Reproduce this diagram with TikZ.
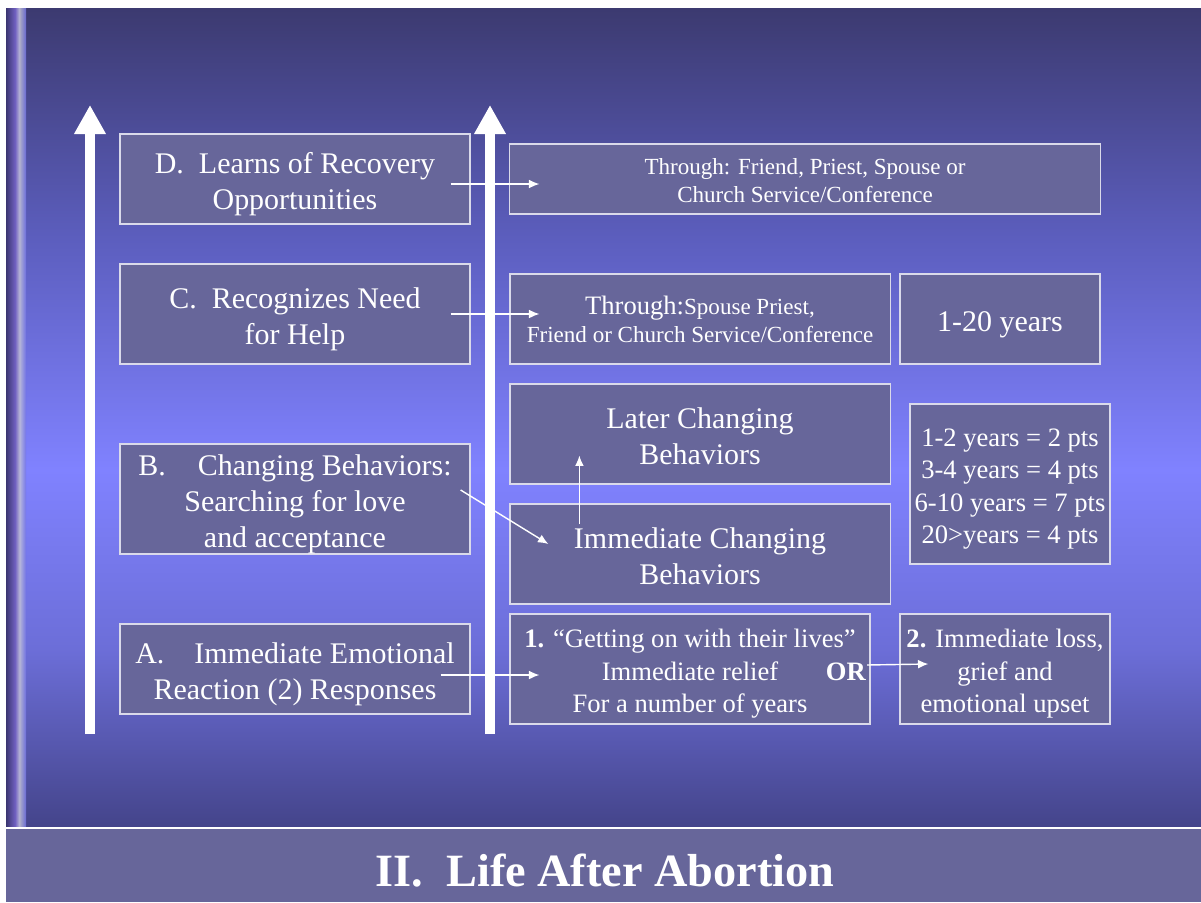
\documentclass[tikz,border=0pt]{standalone}
\usepackage{fontspec}
\setmainfont{Liberation Serif}
\usetikzlibrary{calc,arrows.meta}

\definecolor{slidetop}{HTML}{3C3A70}
\definecolor{slideupper}{HTML}{5C5EBE}
\definecolor{slidelight}{HTML}{8082FF}
\definecolor{slidelower}{HTML}{6C6ED8}
\definecolor{slidelow}{HTML}{44448A}
\definecolor{boxfill}{HTML}{67669A}
\definecolor{boxline}{HTML}{DADAEA}
\definecolor{stripedark}{HTML}{3A3570}
\definecolor{stripepurple}{HTML}{7060C0}
\definecolor{stripesilver}{HTML}{C0C0D8}

\newcommand{\boxfont}{\fontsize{21.3}{25.5}\selectfont}
\newcommand{\ptsfont}{\fontsize{18.9}{23.2}\selectfont}
\newcommand{\thrufont}{\fontsize{16.4}{20.2}\selectfont}
\newcommand{\titlefont}{\fontsize{32.9}{38}\selectfont}
% fixed top of first line and bottom of last line, so text sits in the middle
\newcommand{\tstrut}{\rule{0pt}{1.05em}}
\newcommand{\bstrut}{\rule[-0.22em]{0pt}{0.22em}}

\begin{document}
\begin{tikzpicture}[x=0.025cm,y=-0.025cm,
	box/.style={draw=boxline,fill=boxfill,line width=0.8pt,text=white,align=center,inner sep=0pt},
	link/.style={draw=white,line width=1pt,-{Latex[length=2.6mm,width=2.2mm]}},
	bigarrow/.style={draw=white,line width=0.25cm,-{Triangle[length=0.73cm,width=0.75cm]}}]
	%\draw[help lines] (0,0) grid[step=100] (1201,902);
	\useasboundingbox (0,0) rectangle (1201,902);

	% slide background
	\fill[white] (0,0) rectangle (1201,902);
	\shade[top color=slidetop, bottom color=slidelight, middle color=slideupper] (6,8) rectangle (1201,470);
	\shade[top color=slidelight, bottom color=slidelow, middle color=slidelower] (6,469.5) rectangle (1201,828);
	\shade[left color=stripedark, right color=stripepurple] (6,8) rectangle (15,828);
	\shade[left color=stripepurple, right color=stripesilver] (15,8) rectangle (20,828);
	\shade[left color=stripesilver, right color=slidelight!60!slideupper, opacity=0.8] (20,8) rectangle (26,828);
	\fill[boxfill] (6,828) rectangle (1201,902);
	\draw[white,line width=0.8pt] (6,828) -- (1201,828);
	\node[text=white,font=\titlefont\bfseries] (title) at (605,870.5) {II.\ \ Life After Abortion};

	% time arrows
	\coordinate (lfoot) at (90,734);
	\coordinate (lhead) at (90,105);
	\coordinate (rfoot) at (490,734);
	\coordinate (rhead) at (490,105);
	\draw[bigarrow] (lfoot) -- (lhead);
	\draw[bigarrow] (rfoot) -- (rhead);

	% stages
	\node[box,font=\boxfont,minimum width=8.75cm,minimum height=2.25cm] (D) at (295,179) {\tstrut D.\ \ Learns of Recovery\\Opportunities\bstrut};
	\node[box,font=\boxfont,minimum width=8.75cm,minimum height=2.5cm] (C) at (295,314) {\tstrut C.\ \ Recognizes Need\\for Help\bstrut};
	\node[box,font=\boxfont,minimum width=8.75cm,minimum height=2.75cm] (B) at (295,499) {\tstrut B.\hspace{0.8cm}Changing Behaviors:\\Searching for love\\and acceptance\bstrut};
	\node[box,font=\boxfont,minimum width=8.75cm,minimum height=2.25cm] (A) at (295,669) {\tstrut A.\hspace{0.75cm}Immediate Emotional\\Reaction (2) Responses\bstrut};

	% details
	\node[box,font=\thrufont,minimum width=14.75cm,minimum height=1.75cm] (dthru) at (805,179) {\tstrut Through: Friend, Priest, Spouse or\\Church Service/Conference\bstrut};
	\node[box,font=\thrufont,minimum width=9.5cm,minimum height=2.25cm] (cthru) at (700,319) {\tstrut{\ptsfont Through:}Spouse Priest,\\Friend or Church Service/Conference\bstrut};
	\node[box,font=\boxfont,minimum width=5cm,minimum height=2.25cm] (cyrs) at (1000,319) {\tstrut 1-20 years\bstrut};
	\node[box,font=\boxfont,minimum width=9.5cm,minimum height=2.5cm] (later) at (700,434) {\tstrut Later Changing\\Behaviors\bstrut};
	\node[box,font=\boxfont,minimum width=9.5cm,minimum height=2.5cm] (immed) at (700,554) {\tstrut Immediate Changing\\Behaviors\bstrut};
	\node[box,font=\ptsfont,minimum width=5cm,minimum height=4cm] (pts) at (1010,484) {\tstrut 1-2 years = 2 pts\\3-4 years = 4 pts\\6-10 years = 7 pts\\20>years = 4 pts\bstrut};
	\node[box,font=\ptsfont,minimum width=9cm,minimum height=2.75cm] (one) at (690,669) {\tstrut\textbf{1.} “Getting on with their lives”\\Immediate relief\hspace*{1cm}\\For a number of years\bstrut};
	\node[text=white,font=\ptsfont\bfseries,anchor=east,inner sep=0pt] (or) at (866,672) {OR};
	\node[box,font=\ptsfont,minimum width=5.25cm,minimum height=2.75cm] (two) at (1005,669) {\tstrut\textbf{2.} Immediate loss,\\grief and\\emotional upset\bstrut};

	\draw[link] ($(D.east)+(-20,5)$) -- ($(dthru.west)+(30,5)$);
	\draw[link] ($(C.east)+(-20,0)$) -- ($(cthru.west)+(30,-5)$);
	\draw[link] ($(B.east)+(-10,-9)$) -- ($(immed.west)+(39,-10)$);
	\draw[link] ($(immed.north west)+(70,21)$) -- ($(later.south west)+(70,-29)$);
	\draw[link] ($(A.east)+(-30,6)$) -- ($(one.west)+(30,6)$);
	\draw[link] ($(or.east)+(1,-7)$) -- ($(two.west)+(29,-5)$);

\end{tikzpicture}
\end{document}
